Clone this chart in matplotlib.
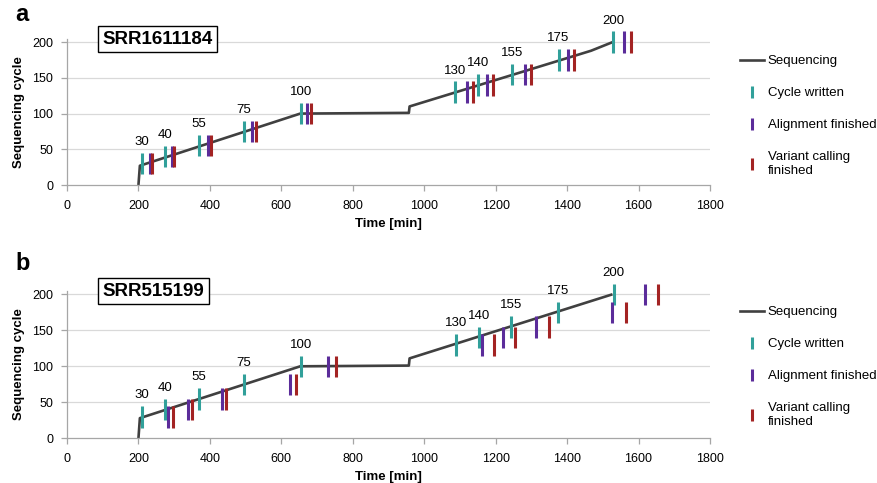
### Modules
import matplotlib
matplotlib.use('Agg')
from matplotlib import pyplot as plt
from matplotlib.lines import Line2D

plt.rcParams['font.family'] = ['Liberation Sans', 'DejaVu Sans']

### Data
cycles = [30, 40, 55, 75, 100, 130, 140, 155, 175, 200]

# panel a: SRR1611184
seq_a_time = [200, 204, 653, 957, 959, 1467, 1527]
seq_a_cycle = [0, 27, 100, 101, 110, 188, 200]
a_written = [209, 274, 369, 496, 654, 1086, 1151, 1247, 1376, 1529]
a_aligned = [231, 293, 396, 519, 671, 1121, 1177, 1283, 1403, 1560]
a_called = [238, 300, 403, 528, 684, 1136, 1193, 1299, 1420, 1579]

# panel b: SRR515199
seq_b_time = [200, 204, 653, 957, 959, 1527]
seq_b_cycle = [0, 28, 100, 101, 111, 200]
b_written = [210, 274, 370, 496, 656, 1088, 1153, 1244, 1374, 1530]
b_aligned = [284, 338, 433, 623, 731, 1161, 1221, 1313, 1525, 1618]
b_called = [297, 351, 446, 641, 752, 1194, 1253, 1348, 1565, 1654]

x_ticks = list(range(0, 2000, 200))
y_ticks = [0, 50, 100, 150, 200]

### Styles
seq_color = '#404040'
written_color = '#31A09A'
aligned_color = '#5B2C9A'
called_color = '#A32323'
grid_color = '#D9D9D9'
axis_color = '#A6A6A6'
half_len = 15  # half length of a marker in cycles

W, H = 878, 483
fig = plt.figure(figsize=(W / 100, H / 100), dpi=100)


def draw_panel(ax, seq_t, seq_c, written, aligned, called, run_name):
    # grid lines
    for yv in y_ticks[1:]:
        ax.axhline(yv, color=grid_color, lw=0.9, zorder=0)

    ax.plot(seq_t, seq_c, color=seq_color, lw=1.9, zorder=2, solid_capstyle='butt')

    lo = [c - half_len for c in cycles]
    hi = [c + half_len for c in cycles]
    ax.vlines(written, lo, hi, color=written_color, lw=2.2, zorder=3, clip_on=False)
    ax.vlines(aligned, lo, hi, color=aligned_color, lw=2.2, zorder=3, clip_on=False)
    ax.vlines(called, lo, hi, color=called_color, lw=2.2, zorder=3, clip_on=False)

    for t, c in zip(written, cycles):
        ax.annotate(str(c), xy=(t, c + half_len), xytext=(0, 3.5),
                    textcoords='offset points', ha='center', va='bottom',
                    fontsize=9.5, annotation_clip=False)

    ax.set_xlim(0, 1800)
    ax.set_ylim(0, 205)
    ax.set_xticks(x_ticks)
    ax.set_yticks(y_ticks)
    ax.tick_params(axis='both', colors=axis_color, labelcolor='black',
                   labelsize=9, length=4, width=0.9)
    ax.tick_params(axis='x', pad=6.5)
    ax.tick_params(axis='y', pad=6)
    for s in ['top', 'right']:
        ax.spines[s].set_visible(False)
    for s in ['left', 'bottom']:
        ax.spines[s].set_color(axis_color)
        ax.spines[s].set_linewidth(0.9)

    ax.set_xlabel('Time [min]', fontsize=9.5, fontweight='bold', labelpad=4.5)
    ax.set_ylabel('Sequencing cycle', fontsize=9.5, fontweight='bold', labelpad=5)

    ax.text(0.055, 1.055, run_name, transform=ax.transAxes, fontsize=13.5,
            fontweight='bold', ha='left', va='top',
            bbox=dict(boxstyle='square,pad=0.25', fc='white', ec='black', lw=1.0))
    return ax


### Panel a
ax_a = fig.add_axes([67 / W, 1 - 185 / H, 643 / W, 146.4 / H])
draw_panel(ax_a, seq_a_time, seq_a_cycle, a_written, a_aligned, a_called, 'SRR1611184')
fig.text(15 / W, 1 - 20.7 / H, 'a', fontsize=17, fontweight='bold', va='baseline', ha='left')

### Panel b
ax_b = fig.add_axes([67 / W, 1 - 438.3 / H, 643 / W, 147.6 / H])
draw_panel(ax_b, seq_b_time, seq_b_cycle, b_written, b_aligned, b_called, 'SRR515199')
fig.text(15 / W, 1 - 270 / H, 'b', fontsize=17, fontweight='bold', va='baseline', ha='left')

### Legends
handles = [Line2D([], [], color=seq_color, lw=1.9),
           Line2D([], [], color=written_color, marker='|', ls='none', markersize=8, markeredgewidth=2.2),
           Line2D([], [], color=aligned_color, marker='|', ls='none', markersize=8, markeredgewidth=2.2),
           Line2D([], [], color=called_color, marker='|', ls='none', markersize=8, markeredgewidth=2.2)]
labels = ['Sequencing', 'Cycle written', 'Alignment finished', 'Variant calling\nfinished']

for ax, top in [(ax_a, 55), (ax_b, 306)]:
    ax.legend(handles, labels, loc='upper left', bbox_to_anchor=(740 / W, 1 - top / H),
              bbox_transform=fig.transFigure, frameon=False, fontsize=9.5,
              handlelength=1.8, handletextpad=0.3, labelspacing=1.5, borderpad=0,
              borderaxespad=0)

plt.savefig('out.png', dpi=100)
